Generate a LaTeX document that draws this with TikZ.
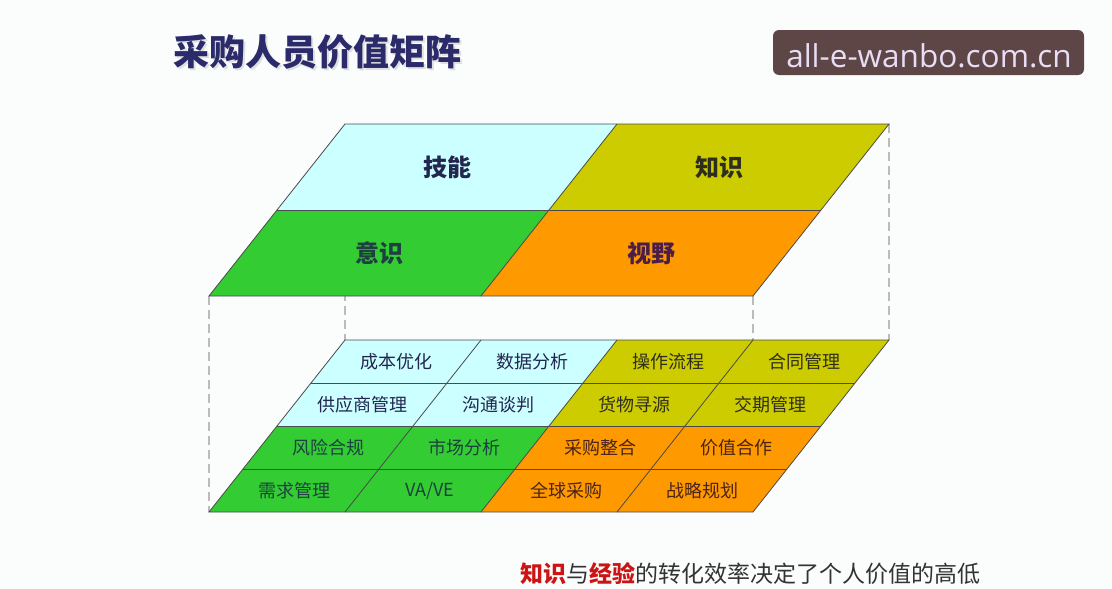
\documentclass[tikz,border=0pt]{standalone}
\usepackage{fontspec}
\setmainfont{Noto Sans CJK SC}
\newfontfamily\wmfont{Open Sans}
\usetikzlibrary{calc}
\definecolor{bgc}{HTML}{FBFDFD}
\definecolor{cyanc}{HTML}{CCFFFF}
\definecolor{olivec}{HTML}{CCCC00}
\definecolor{greenc}{HTML}{33CC33}
\definecolor{orangec}{HTML}{FF9900}
\definecolor{titlec}{HTML}{2B2A6B}
\definecolor{wmbox}{HTML}{5E4646}
\definecolor{wmtext}{HTML}{E8DDF5}
\definecolor{gridc}{HTML}{4A4A4A}
\definecolor{dashc}{HTML}{BBBBBB}
\definecolor{navyt}{HTML}{23264F}
\definecolor{darkt}{HTML}{2E2E1E}
\definecolor{tealt}{HTML}{1F4040}
\definecolor{purpt}{HTML}{4A1E48}
\definecolor{oranget}{HTML}{4A2418}
\definecolor{redt}{HTML}{CC1414}
\definecolor{grayt}{HTML}{333333}
\tikzset{
  gridline/.style={draw=gridc, line width=0.8pt, line join=miter},
  dashline/.style={draw=dashc, line width=1.3pt, dash pattern=on 9pt off 5pt},
  biglabel/.style={font=\fontsize{24}{28}\selectfont\bfseries, inner sep=0pt},
  cellabel/.style={font=\fontsize{18}{21}\selectfont, inner sep=0pt},
}
\newcommand\vave{VA/VE}
\begin{document}
\begin{tikzpicture}[x=1pt,y=-1pt]
\fill[bgc] (0,0) rectangle (1112,589);
\useasboundingbox (0,0) rectangle (1112,589);

% title
\node[font=\fontsize{36}{40}\selectfont\bfseries, text=black!12, inner sep=0pt] (titleshadow) at (319,54) {采购人员价值矩阵};
\node[font=\fontsize{36}{40}\selectfont\bfseries, text=titlec, inner sep=0pt] (title) at (317,52) {采购人员价值矩阵};

% watermark
\node[fill=wmbox, rounded corners=6pt, minimum width=311pt, minimum height=45pt, inner sep=0pt] (wm) at (928.5,52.5) {};
\node[text=wmtext, font=\wmfont\fontsize{31.5}{34}\selectfont, inner sep=0pt] (wmlabel) at (929,56) {all-e-wanbo.com.cn};

% grid coordinates
\foreach \i in {0,1,2}{\foreach \j in {0,1,2}{
  \coordinate (T\i\j) at ({345+272*\i-68*\j},{124+86*\j});}}
\foreach \i in {0,...,4}{\foreach \j in {0,...,4}{
  \coordinate (B\i\j) at ({345+136*\i-34*\j},{340+43*\j});}}

% dashed projection lines
\draw[dashline] (T00) -- (B00);
\draw[dashline] (T20) -- (B40);
\draw[dashline] (T02) -- (B04);
\draw[dashline] (T22) -- (B44);

% top parallelogram
\fill[cyanc]   (T00) -- (T10) -- (T11) -- (T01) -- cycle;
\fill[olivec]  (T10) -- (T20) -- (T21) -- (T11) -- cycle;
\fill[greenc]  (T01) -- (T11) -- (T12) -- (T02) -- cycle;
\fill[orangec] (T11) -- (T21) -- (T22) -- (T12) -- cycle;
\draw[gridline] (T00) -- (T20) -- (T22) -- (T02) -- cycle;
\draw[gridline] (T01) -- (T21);
\draw[gridline] (T10) -- (T12);

% bottom parallelogram
\fill[cyanc]   (B00) -- (B20) -- (B22) -- (B02) -- cycle;
\fill[olivec]  (B20) -- (B40) -- (B42) -- (B22) -- cycle;
\fill[greenc]  (B02) -- (B22) -- (B24) -- (B04) -- cycle;
\fill[orangec] (B22) -- (B42) -- (B44) -- (B24) -- cycle;
\draw[gridline] (B00) -- (B40) -- (B44) -- (B04) -- cycle;
\draw[gridline] (B01) -- (B41);
\draw[gridline] (B02) -- (B42);
\draw[gridline] (B03) -- (B43);
\draw[gridline] (B10) -- (B14);
\draw[gridline] (B20) -- (B24);
\draw[gridline] (B30) -- (B34);

% top labels
\node[biglabel, text=navyt] (skill) at ($(T00)!0.5!(T11)$) {技能};
\node[biglabel, text=darkt] (know)  at ($(T10)!0.5!(T21)$) {知识};
\node[biglabel, text=tealt] (aware) at ($(T01)!0.5!(T12)$) {意识};
\node[biglabel, text=purpt] (view)  at ($(T11)!0.5!(T22)$) {视野};

% bottom labels
\foreach \t/\i/\j/\c in {
  成本优化/0/0/navyt, 数据分析/1/0/navyt, 操作流程/2/0/darkt, 合同管理/3/0/darkt,
  供应商管理/0/1/navyt, 沟通谈判/1/1/navyt, 货物寻源/2/1/darkt, 交期管理/3/1/darkt,
  风险合规/0/2/tealt, 市场分析/1/2/tealt, 采购整合/2/2/oranget, 价值合作/3/2/oranget,
  需求管理/0/3/tealt, \vave/1/3/tealt, 全球采购/2/3/oranget, 战略规划/3/3/oranget}{
  \pgfmathtruncatemacro{\ii}{\i+1}
  \pgfmathtruncatemacro{\jj}{\j+1}
  \node[cellabel, text=\c] (cell\i\j) at ($(B\i\j)!0.5!(B\ii\jj)$) {\t};
}

% motto
\node[font=\fontsize{23}{26}\selectfont, text=grayt, inner sep=0pt] (motto) at (750,574)
  {\textcolor{redt}{\bfseries 知识}与\textcolor{redt}{\bfseries 经验}的转化效率决定了个人价值的高低};
\end{tikzpicture}
\end{document}
